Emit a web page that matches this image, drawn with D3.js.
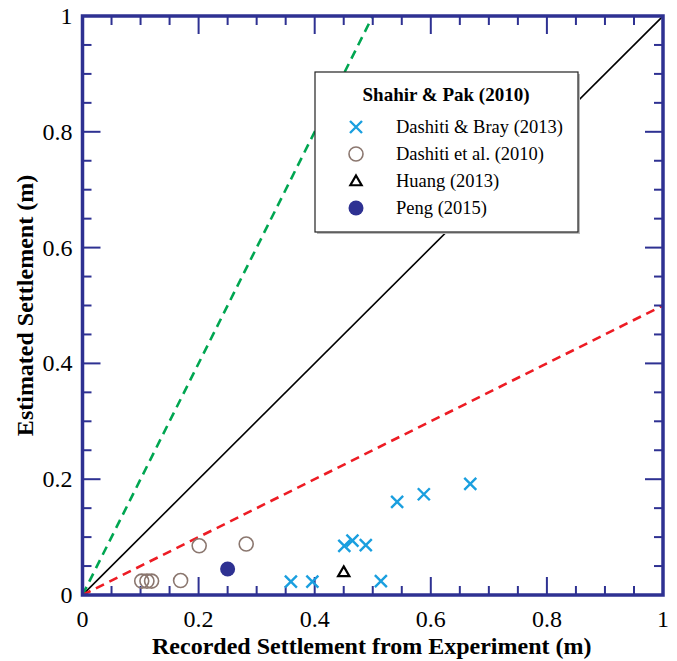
<!DOCTYPE html>
<meta charset="utf-8">
<script src="https://d3js.org/d3.v7.min.js"></script>
<style>
  body { margin: 0; background: #fff; }
</style>
<div id="my_dataviz"></div>
<script>

// data (x = recorded, y = estimated, in m)
var dashitiBrayX = [0.359, 0.396, 0.451, 0.465, 0.488, 0.514, 0.542, 0.588, 0.668];
var dashitiBrayY = [0.023, 0.023, 0.085, 0.094, 0.086, 0.024, 0.161, 0.174, 0.192];
var dashitiX = [0.102, 0.111, 0.119, 0.169, 0.201, 0.282];
var dashitiY = [0.024, 0.024, 0.024, 0.025, 0.085, 0.088];
var huangX = [0.450];
var huangY = [0.040];
var pengX = [0.250];
var pengY = [0.045];

// reference lines y = k * x
var lineSlopes = [1, 2, 0.5];
var lineColors = ["#000000", "#00a651", "#ed1c24"];
var lineDash = [null, "9,6", "9,6"];

var majorTicks = [0, 0.2, 0.4, 0.6, 0.8, 1];
var minorTicks = d3.range(0, 1.0001, 0.05);

var legendTitle = "Shahir & Pak (2010)";
var legendLabels = ["Dashiti & Bray (2013)", "Dashiti et al. (2010)", "Huang (2013)", "Peng (2015)"];

var axisColor = "#2e3192";
var serif = "'Liberation Serif', 'Times New Roman', 'DejaVu Serif', serif";

var margin = {top: 16, right: 14, bottom: 66, left: 82.5},
    width = 663 - 82.5,
    height = 595 - 16;

var svg = d3.select("#my_dataviz")
  .append("svg")
    .attr("width", 677)
    .attr("height", 661)
    .style("font-family", serif)
  .append("g")
    .attr("transform", "translate(" + margin.left + "," + margin.top + ")");

var x = d3.scaleLinear().domain([0, 1]).range([0, width]);
var y = d3.scaleLinear().domain([0, 1]).range([height, 0]);

// clip for the reference lines
svg.append("clipPath").attr("id", "clip")
  .append("rect").attr("width", width).attr("height", height);

// reference lines
lineSlopes.forEach(function(k, i) {
  var xe = Math.min(1, 1 / k);
  svg.append("line")
    .attr("clip-path", "url(#clip)")
    .attr("x1", x(0)).attr("y1", y(0))
    .attr("x2", x(xe)).attr("y2", y(k * xe))
    .attr("stroke", lineColors[i])
    .attr("stroke-width", i == 0 ? 1.6 : 2.6)
    .attr("stroke-dasharray", lineDash[i]);
});

// ticks on all four sides, pointing inward
function tickLen(v) { return majorTicks.some(function(m) { return Math.abs(m - v) < 1e-6; }) ? 18 : 9; }

var ticks = svg.append("g").attr("stroke", axisColor).attr("stroke-width", 2);
minorTicks.forEach(function(v) {
  var L = tickLen(v);
  ticks.append("line").attr("x1", x(v)).attr("x2", x(v)).attr("y1", height).attr("y2", height - L);
  ticks.append("line").attr("x1", x(v)).attr("x2", x(v)).attr("y1", 0).attr("y2", L);
  ticks.append("line").attr("y1", y(v)).attr("y2", y(v)).attr("x1", 0).attr("x2", L);
  ticks.append("line").attr("y1", y(v)).attr("y2", y(v)).attr("x1", width).attr("x2", width - L);
});

// frame
svg.append("rect")
  .attr("width", width).attr("height", height)
  .attr("fill", "none").attr("stroke", axisColor).attr("stroke-width", 3.5);

// tick labels
var fmt = function(d) { return d === 0 ? "0" : d === 1 ? "1" : d3.format(".1f")(d); };
svg.selectAll(".xl").data(majorTicks).enter().append("text")
  .attr("x", function(d) { return x(d); })
  .attr("y", height + 32)
  .attr("text-anchor", "middle")
  .style("font-size", "24px")
  .text(fmt);
svg.selectAll(".yl").data(majorTicks).enter().append("text")
  .attr("x", -10)
  .attr("y", function(d) { return y(d) + 8; })
  .attr("text-anchor", "end")
  .style("font-size", "24px")
  .text(fmt);

// axis titles
svg.append("text")
  .attr("x", width / 2 - 1)
  .attr("y", height + 59)
  .attr("text-anchor", "middle")
  .style("font-size", "24px").style("font-weight", "bold")
  .text("Recorded Settlement from Experiment (m)");
svg.append("text")
  .attr("transform", "translate(" + (-50) + "," + (height / 2) + ") rotate(-90)")
  .attr("text-anchor", "middle")
  .style("font-size", "24px").style("font-weight", "bold")
  .text("Estimated Settlement (m)");

// markers
function cross(g, px, py, s, color) {
  g.append("path")
    .attr("d", "M" + (px - s) + "," + (py - s) + "L" + (px + s) + "," + (py + s) +
               "M" + (px - s) + "," + (py + s) + "L" + (px + s) + "," + (py - s))
    .attr("stroke", color).attr("stroke-width", 2.4).attr("fill", "none");
}
function triangle(g, px, py, color) {
  g.append("path")
    .attr("d", d3.symbol().type(d3.symbolTriangle).size(55)())
    .attr("transform", "translate(" + px + "," + (py + 1) + ")")
    .attr("fill", "none").attr("stroke", color).attr("stroke-width", 2.2);
}

var pts = svg.append("g");
dashitiX.forEach(function(v, i) {
  pts.append("circle").attr("cx", x(v)).attr("cy", y(dashitiY[i])).attr("r", 7)
    .attr("fill", "none").attr("stroke", "#8b776f").attr("stroke-width", 1.6);
});
dashitiBrayX.forEach(function(v, i) { cross(pts, x(v), y(dashitiBrayY[i]), 6, "#1a9fdf"); });
huangX.forEach(function(v, i) { triangle(pts, x(v), y(huangY[i]), "#000"); });
pengX.forEach(function(v, i) {
  pts.append("circle").attr("cx", x(v)).attr("cy", y(pengY[i])).attr("r", 7.5).attr("fill", axisColor);
});

// legend
var lg = svg.append("g").attr("transform", "translate(" + (315 - margin.left) + "," + (72 - margin.top) + ")");
lg.append("rect").attr("x", 2).attr("y", 2).attr("width", 263).attr("height", 160).attr("fill", "#bbb");
lg.append("rect").attr("width", 263).attr("height", 160).attr("fill", "#fff").attr("stroke", "#222").attr("stroke-width", 1.2);
lg.append("text").attr("x", 131).attr("y", 29).attr("text-anchor", "middle")
  .style("font-size", "19px").style("font-weight", "bold").text(legendTitle);
legendLabels.forEach(function(t, i) {
  var ry = 55 + i * 27;
  lg.append("text").attr("x", 81).attr("y", ry + 6).style("font-size", "18.5px").text(t);
  var sx = 41;
  if (i == 0) cross(lg, sx, ry, 6, "#1a9fdf");
  if (i == 1) lg.append("circle").attr("cx", sx).attr("cy", ry).attr("r", 7).attr("fill", "none").attr("stroke", "#8b776f").attr("stroke-width", 1.6);
  if (i == 2) triangle(lg, sx, ry, "#000");
  if (i == 3) lg.append("circle").attr("cx", sx).attr("cy", ry).attr("r", 7.5).attr("fill", axisColor);
});

</script>
